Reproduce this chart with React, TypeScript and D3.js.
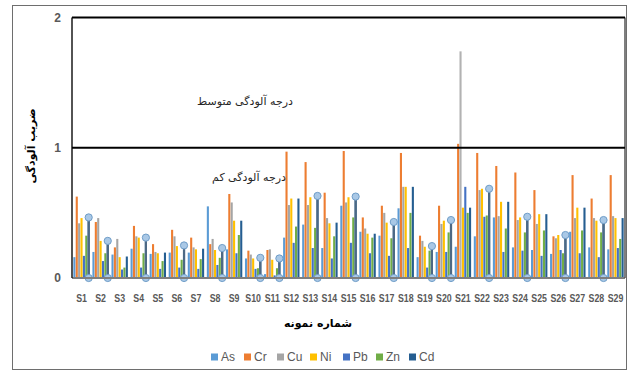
import React from "react";
import * as d3 from "d3";

const samples = Array.from({ length: 29 }, (_, i) => `S${i + 1}`);
const metals = ["As", "Cr", "Cu", "Ni", "Pb", "Zn", "Cd"];
const metalColors = ["#5B9BD5", "#ED7D31", "#A5A5A5", "#FFC000", "#4472C4", "#70AD47", "#255E91"];

// Contamination factor per sample, one array per metal (S1..S29)
const As = [0.16, 0.2, 0.18, 0.225, 0.185, 0.195, 0.195, 0.55, 0.22, 0.15, 0.03, 0.31, 0.41, 0.23, 0.555, 0.355, 0.325, 0.535, 0.16, 0.2, 0.24, 0.32, 0.465, 0.235, 0.215, 0.185, 0.355, 0.235, 0.22];
const Cr = [0.625, 0.43, 0.235, 0.4, 0.26, 0.37, 0.31, 0.26, 0.645, 0.21, 0.215, 0.97, 0.89, 0.655, 0.975, 0.465, 0.555, 0.96, 0.325, 0.555, 1.03, 0.96, 0.86, 0.81, 0.675, 0.32, 0.79, 0.61, 0.79];
const Cu = [0.42, 0.46, 0.3, 0.32, 0.2, 0.32, 0.235, 0.3, 0.58, 0.18, 0.22, 0.56, 0.56, 0.46, 0.58, 0.38, 0.5, 0.7, 0.285, 0.415, 1.74, 0.675, 0.475, 0.445, 0.415, 0.305, 0.46, 0.46, 0.475];
const Ni = [0.46, 0.285, 0.16, 0.31, 0.19, 0.245, 0.22, 0.215, 0.44, 0.15, 0.14, 0.61, 0.62, 0.42, 0.62, 0.34, 0.425, 0.7, 0.24, 0.44, 0.54, 0.685, 0.585, 0.465, 0.49, 0.33, 0.54, 0.44, 0.46];
const Pb = [0.17, 0.13, 0.065, 0.08, 0.07, 0.08, 0.07, 0.1, 0.19, 0.07, 0.02, 0.27, 0.23, 0.15, 0.27, 0.19, 0.17, 0.23, 0.08, 0.2, 0.7, 0.47, 0.2, 0.21, 0.17, 0.215, 0.19, 0.16, 0.23];
const Zn = [0.325, 0.19, 0.08, 0.19, 0.13, 0.14, 0.145, 0.155, 0.33, 0.075, 0.075, 0.395, 0.385, 0.32, 0.465, 0.31, 0.305, 0.5, 0.21, 0.35, 0.5, 0.48, 0.38, 0.35, 0.365, 0.19, 0.365, 0.35, 0.3];
const Cd = [0.465, 0.285, 0.165, 0.31, 0.195, 0.25, 0.225, 0.23, 0.44, 0.155, 0.15, 0.61, 0.63, 0.425, 0.625, 0.34, 0.43, 0.7, 0.245, 0.445, 0.54, 0.685, 0.585, 0.47, 0.49, 0.33, 0.54, 0.445, 0.46];
const seriesValues = [As, Cr, Cu, Ni, Pb, Zn, Cd];

// Samples whose Cd column carries the marker pair
const markedSamples = ["S1", "S2", "S4", "S6", "S8", "S10", "S11", "S13", "S15", "S17", "S19", "S20", "S22", "S24", "S26", "S28"];

const yTicks = [0, 1, 2];

const W = 630;
const H = 378;
const plot = { left: 72, right: 625, top: 17.5, bottom: 278 };

export default function App() {
  const x0 = d3.scaleBand<string>().domain(samples).range([plot.left, plot.right]).paddingInner(0.14).paddingOuter(0.07);
  const x1 = d3.scaleBand<string>().domain(metals).range([0, x0.bandwidth()]).paddingInner(0.12);
  const y = d3.scaleLinear().domain([0, 2]).range([plot.bottom, plot.top]);

  const font = "'Liberation Sans', Arial, sans-serif";
  const faFont = "'DejaVu Sans', 'Noto Sans', sans-serif";

  const legendX = 211;
  const legendStep = 33;

  return (
    <svg width={W} height={H} style={{ position: "absolute", left: 0, top: 0, background: "#fff" }}>
      <rect x={12.5} y={5.5} width={614} height={364} fill="#fff" stroke="#6e6e6e" strokeWidth={1} />

      {/* bars */}
      {samples.map((s, i) => (
        <g key={s} transform={`translate(${x0(s)},0)`}>
          {metals.map((m, j) => {
            const v = seriesValues[j][i];
            return (
              <rect
                key={m}
                x={x1(m)}
                y={y(v)}
                width={x1.bandwidth()}
                height={y(0) - y(v)}
                fill={metalColors[j]}
                opacity={j === 2 && v > 1.2 ? 0.85 : 1}
              />
            );
          })}
        </g>
      ))}

      {/* Cd marker pairs */}
      {markedSamples.map((s) => {
        const i = samples.indexOf(s);
        const cx = (x0(s) as number) + (x1("Cd") as number) + x1.bandwidth() / 2;
        const top = y(Cd[i]);
        return (
          <g key={s}>
            <line x1={cx} x2={cx} y1={y(0)} y2={top} stroke="#4D6985" strokeWidth={2.2} />
            <circle cx={cx} cy={top} r={3.6} fill="#A9C8E6" stroke="#6F9DC8" strokeWidth={1} />
            <circle cx={cx} cy={y(0)} r={3.6} fill="#A9C8E6" stroke="#6F9DC8" strokeWidth={1} />
          </g>
        );
      })}

      {/* axis baseline */}
      <line x1={plot.left} x2={plot.right} y1={y(0)} y2={y(0)} stroke="#7f7f7f" strokeWidth={2} />

      {/* plot frame and threshold lines */}
      <line x1={plot.left} x2={plot.left} y1={plot.top} y2={y(0)} stroke="#1a1a1a" strokeWidth={1.5} />
      <line x1={plot.right} x2={plot.right} y1={plot.top} y2={y(0)} stroke="#555" strokeWidth={1.5} />
      <line x1={plot.left} x2={plot.right} y1={y(2)} y2={y(2)} stroke="#000" strokeWidth={2} />
      <line x1={plot.left} x2={plot.right} y1={y(1)} y2={y(1)} stroke="#000" strokeWidth={2} />

      {/* y tick labels */}
      {yTicks.map((t) => (
        <text key={t} x={61} y={y(t)} dy="0.35em" textAnchor="end" fontFamily={font} fontSize={12} fontWeight={700} fill="#595959">
          {t}
        </text>
      ))}

      {/* x tick labels, horizontally condensed */}
      {samples.map((s) => (
        <text
          key={s}
          transform={`translate(${(x0(s) as number) + x0.bandwidth() / 2},298) scale(0.8,1)`}
          dy="0.35em"
          textAnchor="middle"
          fontFamily={font}
          fontSize={11}
          fontWeight={700}
          fill="#595959"
        >
          {s}
        </text>
      ))}

      {/* zone annotations */}
      <text x={245} y={101} textAnchor="middle" dy="0.35em" fontFamily={faFont} fontSize={11} fill="#262626" direction="rtl">
        درجه آلودگی متوسط
      </text>
      <text x={249} y={177} textAnchor="middle" dy="0.35em" fontFamily={faFont} fontSize={11} fill="#262626" direction="rtl">
        درجه آلودگی کم
      </text>

      {/* axis titles */}
      <text
        transform={`translate(31,146) rotate(-90)`}
        textAnchor="middle"
        dy="0.35em"
        fontFamily={faFont}
        fontSize={11}
        fontWeight={700}
        fill="#000"
        direction="rtl"
      >
        ضریب آلودگی
      </text>
      <text x={318} y={323} textAnchor="middle" dy="0.35em" fontFamily={faFont} fontSize={11} fontWeight={700} fill="#000" direction="rtl">
        شماره نمونه
      </text>

      {/* legend */}
      {metals.map((m, j) => (
        <g key={m} transform={`translate(${legendX + j * legendStep},357)`}>
          <rect x={0} y={-3.5} width={7} height={7} fill={metalColors[j]} />
          <text x={10} y={0} dy="0.35em" fontFamily={font} fontSize={12} fill="#595959">
            {m}
          </text>
        </g>
      ))}
    </svg>
  );
}
